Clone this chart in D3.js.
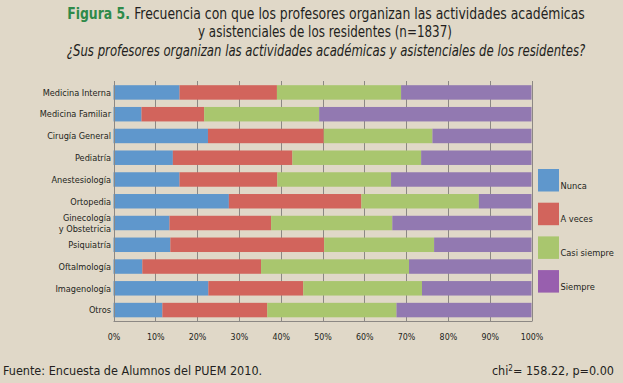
<!DOCTYPE html>
<html><head><meta charset="utf-8">
<script src="https://cdn.jsdelivr.net/npm/d3@7"></script>
<style>
html,body{margin:0;padding:0;background:#e0d8c8;}
svg{display:block;}
text{font-family:"Liberation Sans Narrow","DejaVu Sans Condensed","Liberation Sans",sans-serif;}
</style></head><body>
<svg id="c" width="623" height="383"></svg>
<script>
const categories = ["Medicina Interna","Medicina Familiar","Cirugía General","Pediatría","Anestesiología","Ortopedia","Ginecología|y Obstetricia","Psiquiatría","Oftalmología","Imagenología","Otros"];
const seriesNames = ["Nunca","A veces","Casi siempre","Siempre"];
const nunca       = [15.8, 6.7, 22.6, 14.2, 15.8, 27.6, 13.4, 13.6, 6.9, 22.7, 11.7];
const aVeces      = [23.3, 15.0, 27.7, 28.6, 23.4, 31.7, 24.3, 36.8, 28.4, 22.7, 25.1];
const casiSiempre = [29.7, 27.5, 26.0, 30.8, 27.2, 28.1, 29.0, 26.3, 35.4, 28.4, 30.9];
const siempre     = [31.2, 50.8, 23.7, 26.4, 33.6, 12.6, 33.3, 23.3, 29.3, 26.2, 32.3];
const tickValues = [0,10,20,30,40,50,60,70,80,90,100];

const barColors = ["#5f97cc","#d2645c","#a9c66e","#9279b1"];
const legendColors = ["#5f97cc","#d2645c","#a9c66e","#985fae"];

const svg = d3.select("#c");
const m = {left:113.5, right:531.5, top:81, bottom:321};

// horizontally condense a text (anchored middle at cx) to a target width
function squeeze(sel, cx, target){
  const w = sel.node().getComputedTextLength();
  const k = Math.min(1, target / w);
  sel.attr("transform", `translate(${cx},0) scale(${k},1) translate(${-cx},0)`);
}

// Title
const t = svg.append("g").attr("text-anchor","middle").attr("fill","#231f20").style("font-size","15px");
const l1 = t.append("text").attr("x",326).attr("y",19);
l1.append("tspan").attr("fill","#2e8a4a").attr("font-weight","bold").text("Figura 5. ");
l1.append("tspan").text("Frecuencia con que los profesores organizan las actividades académicas");
squeeze(l1, 326, 518);
const l2 = t.append("text").attr("x",325).attr("y",37.5).text("y asistenciales de los residentes (n=1837)");
squeeze(l2, 325, 254);
const l3 = t.append("text").attr("x",326).attr("y",56).attr("font-style","italic").text("¿Sus profesores organizan las actividades académicas y asistenciales de los residentes?");
squeeze(l3, 326, 519);

const data = categories.map((c,i)=>({cat:c, Nunca:nunca[i], "A veces":aVeces[i], "Casi siempre":casiSiempre[i], Siempre:siempre[i]}));
const stack = d3.stack().keys(seriesNames)(data);

const x = d3.scaleLinear().domain([0,100]).range([m.left,m.right]);
const y = d3.scaleBand().domain(categories).range([m.top+0.5,m.bottom]).paddingInner(0.335).paddingOuter(0.17);

// grid
svg.append("g").selectAll("line").data(tickValues).join("line")
  .attr("x1",d=>Math.round(x(d))+0.5).attr("x2",d=>Math.round(x(d))+0.5)
  .attr("y1",m.top).attr("y2",m.bottom)
  .attr("stroke","#8c8884").attr("stroke-width",1);

// bars
svg.append("g").selectAll("g").data(stack).join("g")
  .attr("fill",(d,i)=>barColors[i])
  .selectAll("rect").data(d=>d).join("rect")
  .attr("x",d=>x(d[0])).attr("width",d=>x(d[1])-x(d[0]))
  .attr("y",d=>y(d.data.cat)).attr("height",y.bandwidth());

// axes lines
svg.append("line").attr("x1",Math.round(m.left)+0.5).attr("x2",Math.round(m.left)+0.5).attr("y1",m.top).attr("y2",m.bottom).attr("stroke","#8c8884");
svg.append("line").attr("x1",m.left).attr("x2",m.right+1).attr("y1",m.bottom+0.5).attr("y2",m.bottom+0.5).attr("stroke","#8c8884");

// x tick labels
const xa = d3.axisBottom(x).tickValues(tickValues).tickFormat(d=>d+"%").tickSize(0).tickPadding(0);
const gx = svg.append("g").attr("transform",`translate(0,${m.bottom+19})`).call(xa);
gx.select(".domain").remove();
gx.selectAll("text").attr("fill","#231f20").style("font-size","8.8px").attr("dy","0");

// y labels
const gy = svg.append("g");
categories.forEach(c=>{
  const parts = c.split("|");
  const cy = y(c)+y.bandwidth()/2;
  const tx = gy.append("text").attr("x",111).attr("text-anchor","end").attr("fill","#231f20").style("font-size","9.1px");
  if(parts.length===1){
    tx.attr("y",cy+3.3).text(parts[0]);
  } else {
    tx.append("tspan").attr("x",111).attr("y",cy-2).text(parts[0]);
    tx.append("tspan").attr("x",111).attr("y",cy+8.5).text(parts[1]);
  }
});

// legend
const lg = svg.append("g");
seriesNames.forEach((s,i)=>{
  const yy = 169 + i*33.7;
  lg.append("rect").attr("x",538).attr("y",yy).attr("width",21).attr("height",22.5).attr("fill",legendColors[i]);
  lg.append("text").attr("x",560.5).attr("y",yy+19.5).attr("fill","#231f20").style("font-size","9.2px").text(s);
});

// footer
svg.append("text").attr("x",3).attr("y",375).attr("fill","#231f20").style("font-size","12.5px").text("Fuente: Encuesta de Alumnos del PUEM 2010.");
const ch = svg.append("text").attr("x",614).attr("y",375).attr("text-anchor","end").attr("fill","#231f20").style("font-size","12.5px");
ch.append("tspan").text("chi");
ch.append("tspan").attr("dy",-4).style("font-size","8px").text("2");
ch.append("tspan").attr("dy",4).text("= 158.22, p=0.00");
</script>
</body></html>
